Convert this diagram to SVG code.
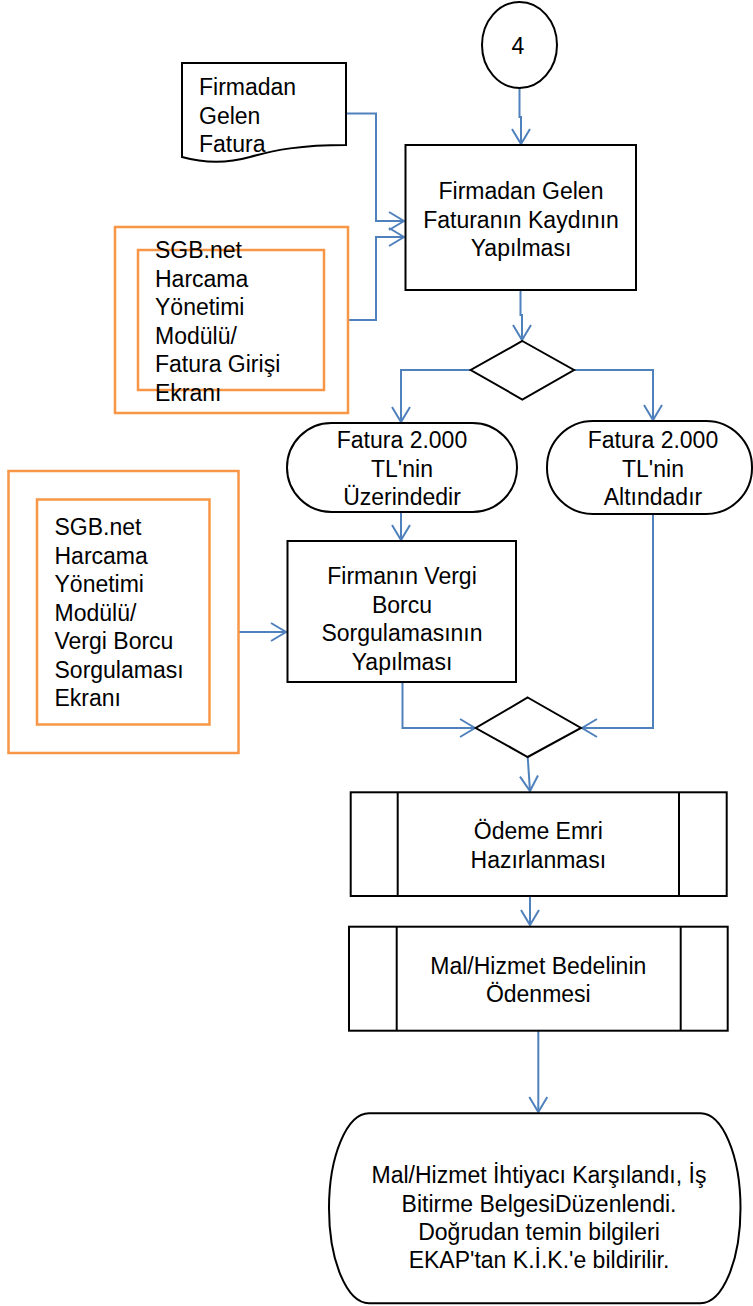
<svg xmlns="http://www.w3.org/2000/svg" width="753" height="1306" viewBox="0 0 753 1306">
<style>
.sh{fill:#fff;stroke:#000;stroke-width:2}
.or{fill:none;stroke:#F79646;stroke-width:2.5}
.cn{fill:none;stroke:#4F81BD;stroke-width:2}
text{font-family:"Liberation Sans",Arial,sans-serif;font-size:23px;fill:#000}
.c{text-anchor:middle}
</style>
<defs>
<marker id="ah" markerUnits="userSpaceOnUse" markerWidth="18" markerHeight="20" viewBox="0 0 18 20" refX="16" refY="10" orient="auto">
<path d="M1,1 L16,10 L1,19" fill="none" stroke="#4F81BD" stroke-width="2"/>
</marker>
</defs>
<rect width="753" height="1306" fill="#fff"/>
<g id="connectors">
<path class="cn" d="M519.5,88 V117 H521 V144" marker-end="url(#ah)"/>
<path class="cn" d="M346,113.5 H376 V221 H404" marker-end="url(#ah)"/>
<path class="cn" d="M348,320 H376 V237 H404" marker-end="url(#ah)"/>
<path class="cn" d="M520.5,290 V315 H522 V340" marker-end="url(#ah)"/>
<path class="cn" d="M471,370 H401 V422" marker-end="url(#ah)"/>
<path class="cn" d="M574,370 H653 V420" marker-end="url(#ah)"/>
<path class="cn" d="M401,512 V540" marker-end="url(#ah)"/>
<path class="cn" d="M238,632 H286" marker-end="url(#ah)"/>
<path class="cn" d="M402.5,682 V728 H475" marker-end="url(#ah)"/>
<path class="cn" d="M653,514 V728 H582" marker-end="url(#ah)"/>
<path class="cn" d="M527.7,757 L530,791" marker-end="url(#ah)"/>
<path class="cn" d="M530,896 V925" marker-end="url(#ah)"/>
<path class="cn" d="M538.3,1031 V1112" marker-end="url(#ah)"/>
</g>
<g id="n-connector4">
<ellipse class="sh" cx="519.5" cy="45" rx="37.5" ry="43"/>
<text class="c" x="518" y="54">4</text>
</g>
<g id="n-document">
<path class="sh" d="M182,63 H346 V145 C300,145 275,150 250,157 C225,164 200,162 182,157 Z"/>
<text x="199" y="95">Firmadan</text>
<text x="199" y="123.5">Gelen</text>
<text x="199" y="152">Fatura</text>
</g>
<g id="n-sgb1">
<rect class="or" x="115" y="227" width="233" height="186"/>
<rect class="or" x="138" y="250" width="186" height="140"/>
<text x="155" y="258">SGB.net</text>
<text x="155" y="286.5">Harcama</text>
<text x="155" y="315">Yönetimi</text>
<text x="155" y="343.5">Modülü/</text>
<text x="155" y="372">Fatura Girişi</text>
<text x="155" y="400.5">Ekranı</text>
</g>
<g id="n-kayit">
<rect class="sh" x="405.5" y="145" width="230.5" height="145"/>
<text class="c" x="521" y="199">Firmadan Gelen</text>
<text class="c" x="521" y="227.5">Faturanın Kaydının</text>
<text class="c" x="521" y="256">Yapılması</text>
</g>
<g id="n-decision1">
<path class="sh" d="M522.3,341 L574,370 L522.3,399.5 L470.7,370 Z"/>
</g>
<g id="n-uzerinde">
<rect class="sh" x="287" y="423" width="230" height="89" rx="44.5"/>
<text class="c" x="402" y="447.5">Fatura 2.000</text>
<text class="c" x="402" y="476.5">TL'nin</text>
<text class="c" x="402" y="505">Üzerindedir</text>
</g>
<g id="n-altinda">
<rect class="sh" x="547" y="421" width="205" height="93" rx="46"/>
<text class="c" x="653" y="447.5">Fatura 2.000</text>
<text class="c" x="653" y="476.5">TL'nin</text>
<text class="c" x="653" y="505">Altındadır</text>
</g>
<g id="n-vergi">
<rect class="sh" x="287.5" y="541" width="228.5" height="141"/>
<text class="c" x="402" y="584">Firmanın Vergi</text>
<text class="c" x="402" y="612.5">Borcu</text>
<text class="c" x="402" y="641">Sorgulamasının</text>
<text class="c" x="402" y="669.5">Yapılması</text>
</g>
<g id="n-sgb2">
<rect class="or" x="8.5" y="471" width="230" height="282"/>
<rect class="or" x="37" y="499.5" width="172.5" height="225"/>
<text x="54.5" y="535">SGB.net</text>
<text x="54.5" y="563.5">Harcama</text>
<text x="54.5" y="592">Yönetimi</text>
<text x="54.5" y="620.5">Modülü/</text>
<text x="54.5" y="649">Vergi Borcu</text>
<text x="54.5" y="677.5">Sorgulaması</text>
<text x="54.5" y="706">Ekranı</text>
</g>
<g id="n-decision2">
<path class="sh" d="M527.7,697.5 L581,728 L527.7,757 L475.7,728 Z"/>
</g>
<g id="n-odemeemri">
<rect class="sh" x="350.7" y="792.3" width="376" height="103.7"/>
<line class="sh" x1="397.7" y1="792.3" x2="397.7" y2="896"/>
<line class="sh" x1="679" y1="792.3" x2="679" y2="896"/>
<text class="c" x="538.3" y="839.3">Ödeme Emri</text>
<text class="c" x="538.3" y="868.3">Hazırlanması</text>
</g>
<g id="n-odenmesi">
<rect class="sh" x="349" y="926.7" width="378.7" height="104"/>
<line class="sh" x1="396.7" y1="926.7" x2="396.7" y2="1030.7"/>
<line class="sh" x1="680.7" y1="926.7" x2="680.7" y2="1030.7"/>
<text class="c" x="538.3" y="974">Mal/Hizmet Bedelinin</text>
<text class="c" x="538.3" y="1002">Ödenmesi</text>
</g>
<g id="n-end">
<rect class="sh" x="329" y="1113.3" width="411.5" height="190" rx="40" ry="95"/>
<text class="c" x="539" y="1183.3">Mal/Hizmet İhtiyacı Karşılandı, İş</text>
<text class="c" x="539" y="1211.7">Bitirme BelgesiDüzenlendi.</text>
<text class="c" x="539" y="1240">Doğrudan temin bilgileri</text>
<text class="c" x="539" y="1268.3">EKAP'tan K.İ.K.'e bildirilir.</text>
</g>
</svg>
